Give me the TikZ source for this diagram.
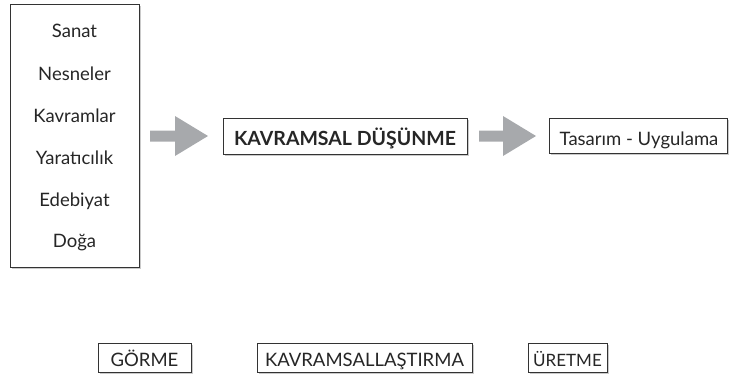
\documentclass[tikz,border=0pt]{standalone}
\usepackage{fontspec}
\setmainfont{Lato}
\usetikzlibrary{shadows}
\definecolor{arrowgray}{HTML}{A7A9AC}
\definecolor{linegray}{HTML}{333333}
\tikzset{
  box/.style={draw=linegray, line width=1pt, fill=white, inner sep=0pt,
    drop shadow={shadow xshift=2pt, shadow yshift=-2pt, fill=black!35, opacity=0.6}},
  lbl/.style={inner sep=0pt, anchor=base, text=black!85, font=\fontsize{18.5}{22}\selectfont},
  boldlbl/.style={lbl, font=\fontsize{19.5}{22}\selectfont\bfseries},
  blockarrow/.style={fill=arrowgray, draw=none}
}
\begin{document}
\begin{tikzpicture}[x=1pt,y=-1pt]
\useasboundingbox (0,0) rectangle (731,383);
% left box
\node[box, minimum width=129pt, minimum height=263pt] (src) at (74.5,135.5) {};
\node[lbl] (sanat) at (74.5,37) {Sanat};
\node[lbl] (nesneler) at (74.5,80) {Nesneler};
\node[lbl] (kavramlar) at (74.5,122) {Kavramlar};
\node[lbl] (yaraticilik) at (74.5,164) {Yaratıcılık};
\node[lbl] (edebiyat) at (74.5,206) {Edebiyat};
\node[lbl] (doga) at (74.5,247) {Doğa};
% middle box
\node[box, minimum width=244pt, minimum height=36pt] (kd) at (345,136) {};
\node[boldlbl] (kdt) at (345,145) {KAVRAMSAL DÜŞÜNME};
% right box
\node[box, minimum width=178pt, minimum height=35pt] (tu) at (638,135.5) {};
\node[lbl] (tut) at (639,145) {Tasarım - Uygulama};
% block arrows
\fill[blockarrow] (150,130.5) -- (175,130.5) -- (175,116) -- (208,136) -- (175,156) -- (175,141.5) -- (150,141.5) -- cycle;
\fill[blockarrow] (479,130.5) -- (503,130.5) -- (503,116) -- (536,136) -- (503,156) -- (503,141.5) -- (479,141.5) -- cycle;
% bottom boxes
\node[box, minimum width=93pt, minimum height=29pt] (gorme) at (144.5,357.5) {};
\node[lbl] (gormet) at (144.5,366) {GÖRME};
\node[box, minimum width=215pt, minimum height=29pt] (kvl) at (364.5,357.5) {};
\node[lbl] (kvlt) at (364.5,366) {KAVRAMSALLAŞTIRMA};
\node[box, minimum width=79pt, minimum height=29pt] (uretme) at (567.5,357.5) {};
\node[lbl, font=\fontsize{17}{20}\selectfont] (uretmet) at (567.5,366) {ÜRETME};
\end{tikzpicture}
\end{document}
